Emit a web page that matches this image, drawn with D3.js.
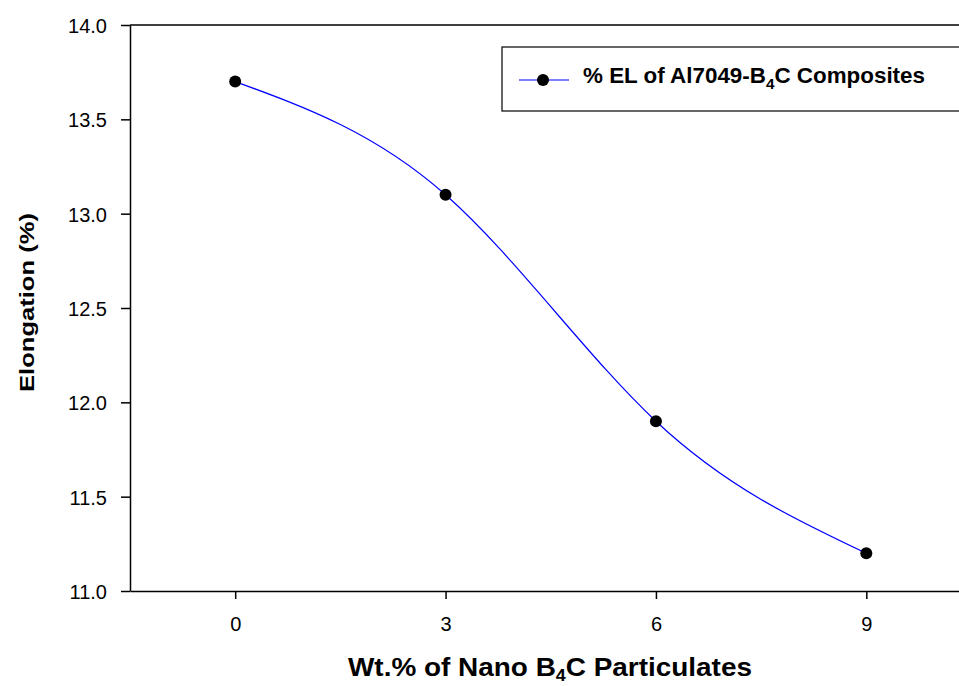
<!DOCTYPE html>
<html>
<head>
<meta charset="utf-8">
<script src="https://cdn.jsdelivr.net/npm/d3@7"></script>
<style>
  body { margin: 0; background: #fff; }
  svg { display: block; font-family: "Liberation Sans", Arial, sans-serif; }
</style>
</head>
<body>
<div id="chart"></div>
<script>
// values
const wtPercent = [0, 3, 6, 9];
const elongation = [13.7, 13.1, 11.9, 11.2];
const xTicks = [0, 3, 6, 9];
const yTicks = [11.0, 11.5, 12.0, 12.5, 13.0, 13.5, 14.0];
const seriesName = "% EL of Al7049-B";

const width = 959, height = 686;
const margin = { top: 25, left: 130, bottom: 95 };

const svg = d3.select("#chart").append("svg")
  .attr("width", width)
  .attr("height", height);

const x = d3.scaleLinear().domain([-1.5, 10.5]).range([margin.left, 971.5]);
const y = d3.scaleLinear().domain([11, 14]).range([height - margin.bottom, margin.top]);

// frame top line (runs off the right edge like the source)
svg.append("line")
  .attr("x1", x(-1.5)).attr("x2", x(10.5))
  .attr("y1", y(14)).attr("y2", y(14))
  .attr("stroke", "#000").attr("stroke-width", 1.5);

const gx = svg.append("g")
  .attr("transform", `translate(0,${y(11)})`)
  .call(d3.axisBottom(x).tickValues(xTicks).tickSize(8).tickPadding(18).tickSizeOuter(0));

const gy = svg.append("g")
  .attr("transform", `translate(${x(-1.5)},0)`)
  .call(d3.axisLeft(y).tickValues(yTicks).tickFormat(d3.format(".1f"))
    .tickSize(9).tickPadding(14).tickSizeOuter(0));

[gx, gy].forEach(g => {
  g.select(".domain").attr("stroke-width", 1.5);
  g.selectAll(".tick line").attr("stroke-width", 1.5);
  g.selectAll(".tick text")
    .attr("font-size", 20)
    .attr("font-family", "Liberation Sans, Arial, sans-serif")
    .attr("fill", "#000");
});
gy.selectAll(".tick text").attr("dy", "0.38em");

const pts = wtPercent.map((d, i) => [d, elongation[i]]);

svg.append("path")
  .datum(pts)
  .attr("fill", "none")
  .attr("stroke", "#0000ff")
  .attr("stroke-width", 1.2)
  .attr("d", d3.line().x(d => x(d[0])).y(d => y(d[1])).curve(d3.curveNatural));

svg.append("g").selectAll("circle")
  .data(pts)
  .join("circle")
  .attr("cx", d => x(d[0]))
  .attr("cy", d => y(d[1]))
  .attr("r", 6)
  .attr("fill", "#000");

// legend
const lg = svg.append("g");
lg.append("rect")
  .attr("x", 502).attr("y", 47)
  .attr("width", 480).attr("height", 64)
  .attr("fill", "#fff").attr("stroke", "#000").attr("stroke-width", 1.2);
lg.append("line")
  .attr("x1", 519).attr("x2", 569).attr("y1", 80).attr("y2", 80)
  .attr("stroke", "#0000ff").attr("stroke-width", 1.2);
lg.append("circle").attr("cx", 543).attr("cy", 80).attr("r", 6).attr("fill", "#000");
const lt = lg.append("text")
  .attr("x", 583).attr("y", 83)
  .attr("font-size", 22).attr("font-weight", "bold")
  .attr("textLength", 342).attr("lengthAdjust", "spacingAndGlyphs");
lt.append("tspan").text(seriesName);
lt.append("tspan").attr("font-size", 15).attr("dy", 6).text("4");
lt.append("tspan").attr("dy", -6).text("C Composites");

// axis titles
const xt = svg.append("text")
  .attr("x", 348).attr("y", 676)
  .attr("font-size", 25).attr("font-weight", "bold")
  .attr("textLength", 404).attr("lengthAdjust", "spacingAndGlyphs");
xt.append("tspan").text("Wt.% of Nano B");
xt.append("tspan").attr("font-size", 16).attr("dy", 5).text("4");
xt.append("tspan").attr("dy", -5).text("C Particulates");

svg.append("text")
  .attr("transform", `translate(34,392) rotate(-90)`)
  .attr("font-size", 20).attr("font-weight", "bold")
  .attr("textLength", 179).attr("lengthAdjust", "spacingAndGlyphs")
  .text("Elongation (%)");
</script>
</body>
</html>
